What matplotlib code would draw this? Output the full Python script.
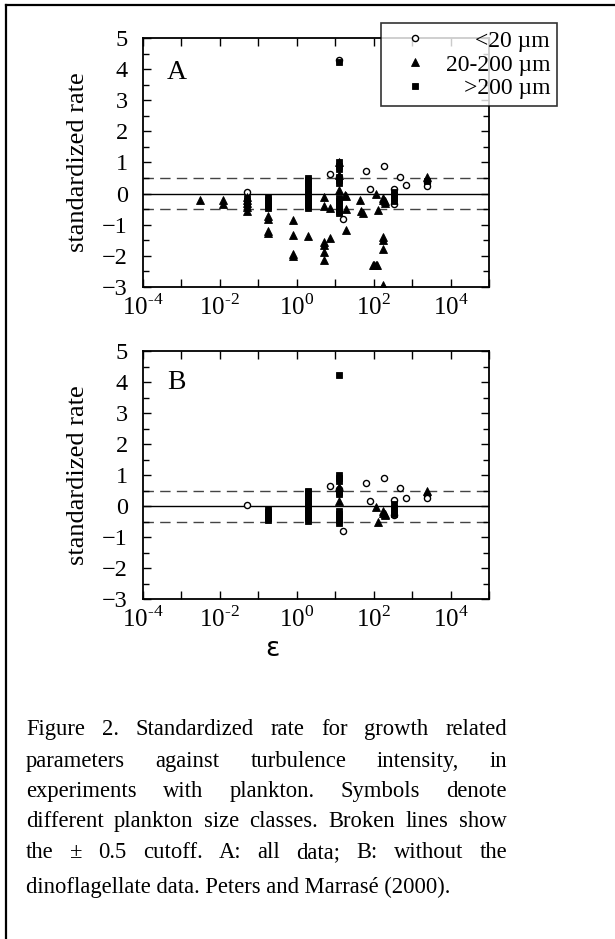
import numpy as np
import matplotlib
matplotlib.use("Agg")
import matplotlib.pyplot as plt
from matplotlib.lines import Line2D

plt.rcParams['font.family'] = ['Liberation Serif', 'DejaVu Serif']
plt.rcParams['mathtext.fontset'] = 'custom'
plt.rcParams['mathtext.rm'] = 'Liberation Serif'

# turbulence intensity (epsilon) and standardized rate
# panel A: all data
a_small_x = [0.052, 7.4, 12.9, 15.8, 12.3, 64.6, 81.3, 190, 331, 331, 490, 692, 2455, 2455]
a_small_y = [0.05, 0.62, 0.55, -0.83, 4.28, 0.72, 0.16, 0.88, 0.16, -0.32, 0.55, 0.27, 0.37, 0.25]

a_mid_x = [0.003, 0.012, 0.012, 0.052, 0.052, 0.052, 0.052, 0.052,
           0.18, 0.18, 0.18, 0.18, 0.81, 0.81, 0.81, 0.81, 2.0,
           5.0, 5.0, 5.0, 5.0, 5.0, 5.0, 7.4, 7.4,
           12.9, 12.9, 12.9, 19.5, 19.5, 19.5, 17.5,
           44.7, 47, 53.7, 117, 132, 170, 180, 195, 200,
           174, 174, 174, 95, 105, 115, 125, 174, 2455]
a_mid_y = [-0.19, -0.22, -0.33, -0.1, -0.2, -0.3, -0.42, -0.55,
           -0.72, -0.8, -1.2, -1.27, -0.85, -1.33, -1.95, -2.02, -1.36,
           -0.1, -0.4, -1.55, -1.65, -1.87, -2.13, -0.45, -1.43,
           1.0, 0.6, 0.13, -0.09, -0.48, -1.17, -0.06,
           -0.19, -0.55, -0.62, 0.0, -0.53, -0.15, -0.22, -0.3, -0.25,
           -1.39, -1.49, -1.79, -2.29, -2.29, -2.29, -2.29, -2.93, 0.53]

a_big_x = [12.9, 0.052, 0.052, 0.052,
           0.18, 0.18, 0.18, 0.18, 0.18,
           2.0, 2.0, 2.0, 2.0, 2.0, 2.0, 2.0, 2.0, 2.0, 2.0, 2.0, 2.0,
           12.9, 12.9, 12.9, 12.9, 12.9, 12.9, 12.9, 12.9, 12.9, 12.9, 12.9, 12.9,
           331, 331, 331, 331, 2455]
a_big_y = [4.22, -0.15, -0.25, -0.35,
           -0.1, -0.2, -0.3, -0.4, -0.45,
           0.5, 0.4, 0.3, 0.2, 0.1, 0.0, -0.1, -0.2, -0.3, -0.4, -0.47, 0.45,
           1.0, 0.9, 0.8, 0.55, 0.45, 0.35, -0.15, -0.25, -0.35, -0.45, -0.55, -0.62,
           0.05, -0.05, -0.15, -0.25, 0.4]

# panel B: without the dinoflagellate data
b_small_x = [0.052, 7.4, 12.9, 15.8, 64.6, 81.3, 190, 331, 331, 490, 692, 2455, 2455]
b_small_y = [0.04, 0.63, 0.55, -0.8, 0.73, 0.17, 0.9, 0.2, -0.3, 0.57, 0.27, 0.37, 0.25]

b_mid_x = [12.9, 12.9, 117, 170, 180, 195, 200, 132, 2455]
b_mid_y = [0.6, 0.17, -0.03, -0.15, -0.22, -0.3, -0.25, -0.5, 0.5]

b_big_x = [12.9, 0.18, 0.18, 0.18, 0.18, 0.18,
           2.0, 2.0, 2.0, 2.0, 2.0, 2.0, 2.0, 2.0, 2.0, 2.0, 2.0, 2.0,
           12.9, 12.9, 12.9, 12.9, 12.9, 12.9, 12.9, 12.9, 12.9, 12.9, 12.9,
           331, 331, 331, 331]
b_big_y = [4.22, -0.1, -0.2, -0.3, -0.4, -0.45,
           0.5, 0.4, 0.3, 0.2, 0.1, 0.0, -0.1, -0.2, -0.3, -0.4, -0.47, 0.45,
           1.0, 0.9, 0.8, 0.5, 0.4, -0.15, -0.25, -0.35, -0.45, -0.55, 0.45,
           0.05, -0.05, -0.15, -0.25]

class_labels = ['<20 \u00b5m', '20-200 \u00b5m', '>200 \u00b5m']
panel_names = ['A', 'B']
x_exponents = list(range(-4, 6))
x_ticklabels = []
for e in x_exponents:
    if e % 2 == 0 and e < 5:
        exp_txt = '\\text{-}%d' % -e if e < 0 else '%d' % e
        x_ticklabels.append('10$^{\\mathregular{%s}}$' % exp_txt)
    else:
        x_ticklabels.append('')
y_ticks = list(range(-3, 6))
cutoff = 0.5

caption_lines = [
    "Figure 2. Standardized rate for growth related",
    "parameters against turbulence intensity, in",
    "experiments with plankton. Symbols denote",
    "different plankton size classes. Broken lines show",
    "the \u00b1 0.5 cutoff. A: all data; B: without the",
    "dinoflagellate data. Peters and Marras\u00e9 (2000).",
]

W, H = 615, 939
fig = plt.figure(figsize=(W / 100, H / 100), dpi=100)
axA = fig.add_axes([143 / W, 1 - 287 / H, 346 / W, 249 / H])
axB = fig.add_axes([143 / W, 1 - 599 / H, 346 / W, 248 / H])

panels = [
    (axA, a_small_x, a_small_y, a_mid_x, a_mid_y, a_big_x, a_big_y),
    (axB, b_small_x, b_small_y, b_mid_x, b_mid_y, b_big_x, b_big_y),
]

handles = []
for i, (ax, sx, sy, mx, my, bx, by) in enumerate(panels):
    ax.axhline(0, color='black', lw=1.0, zorder=1)
    for c in (cutoff, -cutoff):
        ax.axhline(c, color='#444444', lw=1.0, dashes=(7.5, 4.5), zorder=1)
    h1, = ax.plot(sx, sy, 'o', ms=4.4, mfc='white', mec='black', mew=1.0, ls='none', zorder=3)
    h2, = ax.plot(mx, my, '^', ms=5.6, mfc='black', mec='black', mew=0.6, ls='none', zorder=3)
    h3, = ax.plot(bx, by, 's', ms=4.8, mfc='black', mec='black', mew=0.6, ls='none', zorder=4)
    if i == 0:
        handles = [h1, h2, h3]

    ax.set_xscale('log')
    ax.set_xlim(1e-4, 1e5)
    ax.set_ylim(-3, 5)
    ax.set_xticks([10.0 ** e for e in x_exponents])
    ax.set_xticklabels(x_ticklabels)
    ax.xaxis.set_minor_locator(matplotlib.ticker.NullLocator())
    ax.set_yticks(y_ticks)
    ax.set_yticks(np.arange(-2.5, 5, 1.0), minor=True)
    ax.tick_params(which='both', direction='in', top=True, right=True, width=1.0)
    ax.tick_params(which='major', length=6)
    ax.tick_params(which='minor', length=4)
    ax.tick_params(axis='y', labelsize=17.5, pad=11)
    ax.tick_params(axis='x', labelsize=18, pad=5)
    for s in ax.spines.values():
        s.set_linewidth(1.3)
    ax.set_ylabel('standardized rate', fontsize=19)
    ax.yaxis.set_label_coords(-0.155, 0.5)
    ax.text(0.069, 0.835 if i == 0 else 0.847, panel_names[i], transform=ax.transAxes,
            fontsize=20, va='baseline')

axB.set_xlabel('\u03b5', fontsize=19, family='DejaVu Sans')
axB.xaxis.set_label_coords(0.373, -0.15)

leg = fig.legend(handles, class_labels, loc='upper left',
                 bbox_to_anchor=(381 / W, 1 - 23 / H), fontsize=17,
                 frameon=True, fancybox=False, edgecolor='black',
                 borderpad=0.3, handlelength=2.3, handletextpad=0.2,
                 labelspacing=0.1, borderaxespad=0)
leg.get_frame().set_linewidth(1.2)
# marker on the left, label text right-aligned
for col in leg._legend_handle_box.get_children():
    for row in col.get_children():
        row.mode = 'expand'
        row.width = 162

# page frame lines
fig.add_artist(Line2D([6 / W, 1], [1 - 5 / H, 1 - 5 / H], color='black', lw=1.6))
fig.add_artist(Line2D([6 / W, 6 / W], [0, 1 - 5 / H], color='black', lw=1.6))

# justified caption
renderer = fig.canvas.get_renderer()
left_px, right_px = 26, 507
baselines = [735, 767, 797, 827, 858, 893]
for i, line in enumerate(caption_lines):
    yb = 1 - baselines[i] / H
    if i == len(caption_lines) - 1:
        fig.text(left_px / W, yb, line, fontsize=16.3, va='baseline')
        continue
    words = line.split()
    texts = [fig.text(0, yb, w, fontsize=16.3, va='baseline') for w in words]
    widths = [t.get_window_extent(renderer).width for t in texts]
    gap = (right_px - left_px - sum(widths)) / (len(words) - 1)
    x = left_px
    for t, w in zip(texts, widths):
        t.set_x(x / W)
        x += w + gap

fig.savefig('out.png', dpi=100)
